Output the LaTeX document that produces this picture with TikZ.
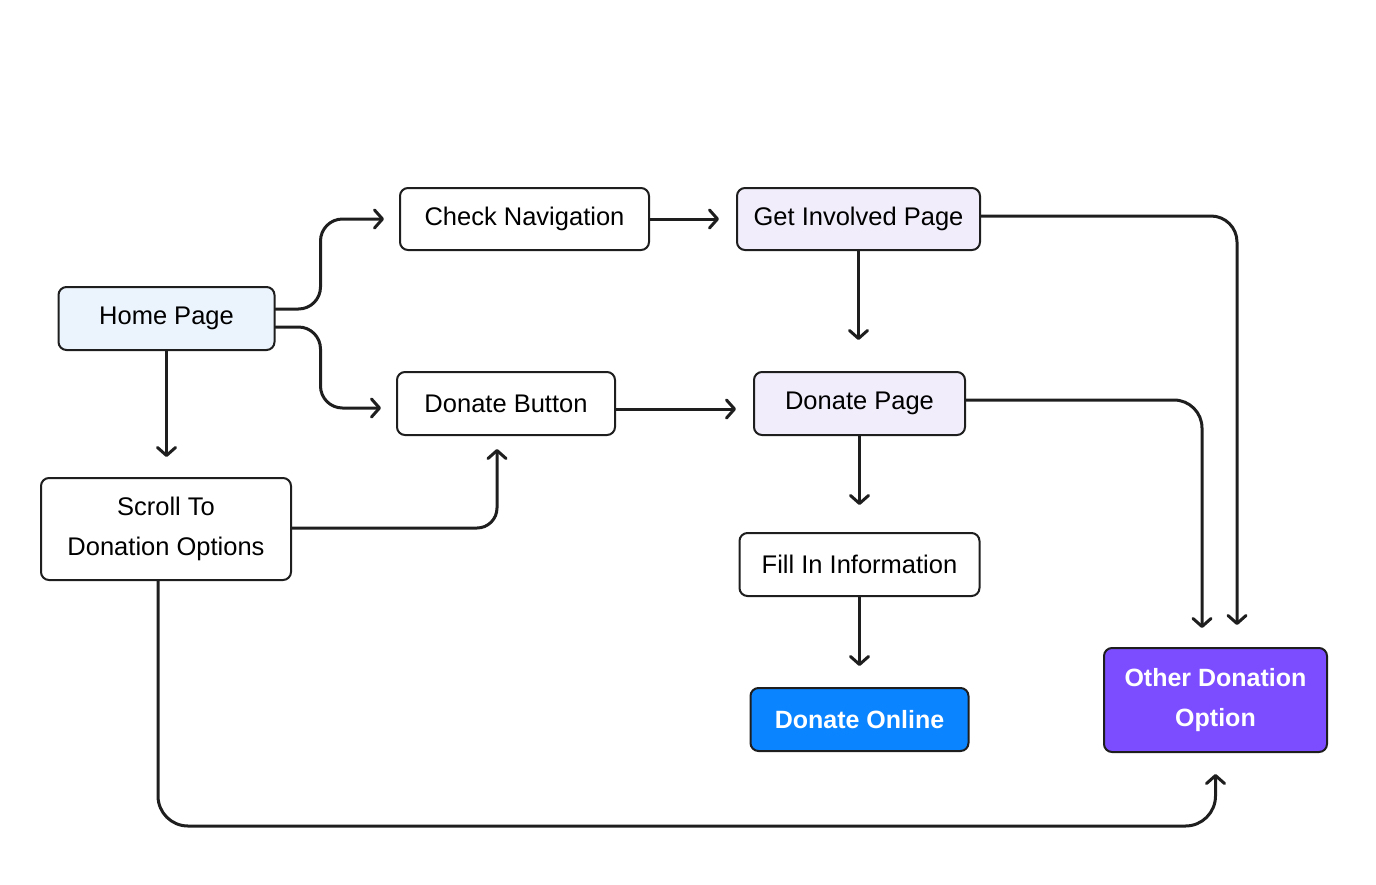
\documentclass[tikz,border=0pt]{standalone}
\usepackage{fontspec}
\setmainfont{Liberation Sans}
\usetikzlibrary{arrows.meta,calc}
\definecolor{edgec}{HTML}{1E1E1E}
\definecolor{homefill}{HTML}{EBF3FC}
\definecolor{purpfill}{HTML}{F2EDFB}
\definecolor{bluefill}{HTML}{0A84FF}
\definecolor{violetfill}{HTML}{7B4DFF}
\tikzset{
  box/.style={draw=edgec, line width=2pt, rounded corners=8pt, fill=white,
    font=\fontsize{25.5}{40}\selectfont, align=center, inner sep=0pt, text=black},
  conn/.style={draw=edgec, line width=3pt, line cap=round, line join=round,
    -{Straight Barb[length=8pt,width=18pt,line width=3pt,line cap=round,line join=round]},
    rounded corners=24pt},
  boldbox/.style={box, font=\fontsize{25}{40}\selectfont\bfseries, text=white}
}
\begin{document}
\begin{tikzpicture}[x=1pt,y=-1pt]
\useasboundingbox (0,0) rectangle (1376,884);
\node[box, fill=homefill, minimum width=216pt, minimum height=63pt] (home) at (166.5,318.5) {Home Page};
\node[box, minimum width=249pt, minimum height=62pt] (check) at (524.5,219) {Check Navigation};
\node[box, fill=purpfill, minimum width=243pt, minimum height=62pt] (gi) at (858.5,219) {Get Involved Page};
\node[box, minimum width=218pt, minimum height=63pt] (button) at (506,403.5) {Donate Button};
\node[box, fill=purpfill, minimum width=211pt, minimum height=63pt] (dp) at (859.5,403.5) {Donate Page};
\node[box, minimum width=250pt, minimum height=102pt] (scroll) at (166,529) {Scroll To\\Donation Options};
\node[box, minimum width=240pt, minimum height=63pt] (fill) at (859.5,564.5) {Fill In Information};
\node[boldbox, fill=bluefill, minimum width=218pt, minimum height=63pt] (online) at (859.5,719.5) {Donate Online};
\node[boldbox, fill=violetfill, minimum width=223pt, minimum height=104pt] (other) at (1215.5,700) {Other Donation\\Option};
\coordinate (bot) at (0,826);

\draw[conn, rounded corners=22pt, shorten >=15pt] ([yshift=9.5pt]home.east) -- ++(45,0) |- (check.west);
\draw[conn, rounded corners=22pt, shorten >=15pt] ([yshift=-8.5pt]home.east) -- ++(45,0) |- ([yshift=-4.5pt]button.west);
\draw[conn, shorten >=20pt] (home.south) -- (home.south |- scroll.north);
\draw[conn, shorten >=17pt] (check.east) -- (gi.west);
\draw[conn, shorten >=31pt] (gi.south) -- (gi.south |- dp.north);
\draw[conn, rounded corners=26pt, shorten >=22pt] ([yshift=3pt]gi.east) -| ([xshift=21.5pt]other.north);
\draw[conn, shorten >=17pt] ([yshift=-5.5pt]button.east) -- ([yshift=-5.5pt]dp.west);
\draw[conn, rounded corners=28pt, shorten >=19pt] ([yshift=3.5pt]dp.east) -| ([xshift=-13.5pt]other.north);
\draw[conn, shorten >=27pt] (dp.south) -- (dp.south |- fill.north);
\draw[conn, shorten >=21pt] (fill.south) -- (online.north);
\draw[conn, rounded corners=20pt, shorten >=13pt] ([yshift=1pt]scroll.east) -| ([xshift=-9pt]button.south);
\draw[conn, rounded corners=30pt, shorten >=21pt] ([xshift=-8pt]scroll.south) |- (bot -| other.south) -- (other.south);
\end{tikzpicture}
\end{document}
